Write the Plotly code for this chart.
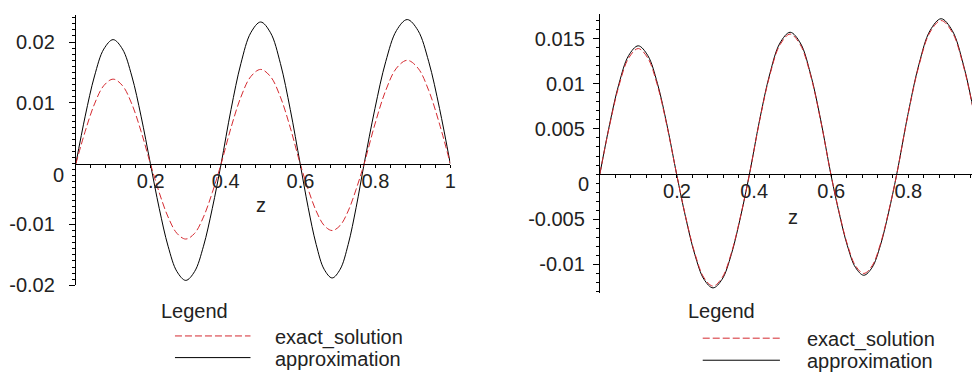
import plotly.graph_objects as go

# ---------------- data ----------------
z = [0.0, 0.0249, 0.0498, 0.0746, 0.0995, 0.1244, 0.1493, 0.1741, 0.199,
     0.2226, 0.2463, 0.2699, 0.2935, 0.3171, 0.3408, 0.3644, 0.388,
     0.4144, 0.4408, 0.4671, 0.4935, 0.5199, 0.5463, 0.5726, 0.599,
     0.6204, 0.6418, 0.6631, 0.6845, 0.7059, 0.7273, 0.7486, 0.770,
     0.7988, 0.8275, 0.8563, 0.885, 0.9138, 0.9425, 0.9713, 1.0]

exact_solution = [0.0, 0.00532, 0.00983, 0.01284, 0.0139, 0.01284, 0.00983, 0.00532, 0.0,
                  -0.00475, -0.00877, -0.01146, -0.0124, -0.01146, -0.00877, -0.00475, 0.0,
                  0.00593, 0.01096, 0.01432, 0.0155, 0.01432, 0.01096, 0.00593, 0.0,
                  -0.00421, -0.00778, -0.01016, -0.0110, -0.01016, -0.00778, -0.00421, 0.0,
                  0.00651, 0.01202, 0.01571, 0.0170, 0.01571, 0.01202, 0.00651, 0.0]

approximation_left = [0.0, 0.00781, 0.01442, 0.01885, 0.0204, 0.01885, 0.01442, 0.00781, 0.0,
                      -0.00735, -0.01358, -0.01774, -0.0192, -0.01774, -0.01358, -0.00735, 0.0,
                      0.00892, 0.01648, 0.02153, 0.0233, 0.02153, 0.01648, 0.00892, 0.0,
                      -0.00719, -0.01329, -0.01737, -0.0188, -0.01737, -0.01329, -0.00719, 0.0,
                      0.00907, 0.01676, 0.02190, 0.0237, 0.02190, 0.01676, 0.00907, 0.0]

approximation_right = [0.0, 0.00543, 0.01004, 0.01312, 0.0142, 0.01312, 0.01004, 0.00543, 0.0,
                       -0.00482, -0.00891, -0.01164, -0.0126, -0.01164, -0.00891, -0.00482, 0.0,
                       0.00601, 0.01110, 0.01451, 0.0157, 0.01451, 0.01110, 0.00601, 0.0,
                       -0.00429, -0.00792, -0.01035, -0.0112, -0.01035, -0.00792, -0.00429, 0.0,
                       0.00658, 0.01216, 0.01589, 0.0172, 0.01589, 0.01216, 0.00658, 0.0]

x_ticks_left = [0.2, 0.4, 0.6, 0.8, 1]
x_ticks_right = [0.2, 0.4, 0.6, 0.8]
y_ticks_left = [-0.02, -0.01, 0.01, 0.02]
y_ticks_left_text = ["-0.02", "-0.01", "0.01", "0.02"]
y_ticks_right = [-0.01, -0.005, 0.005, 0.01, 0.015]
y_ticks_right_text = ["-0.01", "-0.005", "0.005", "0.01", "0.015"]
legend_labels = ["exact_solution", "approximation"]

# ---------------- layout helpers ----------------
W, H = 980, 381
FONT = "Liberation Sans, Arial, sans-serif"
TXT = "#222222"
RED = "#d42a30"


def px(x):
    return x / W


def py(y):
    return 1 - y / H


yl_range = [-0.0200, 0.0245]
yr_range = [-0.0132, 0.0177]
yl_dom = [py(285.5), py(6.9)]
yr_dom = [py(293.8), py(6.4)]


def zero_pos(rng, dom):
    return dom[0] + (0 - rng[0]) / (rng[1] - rng[0]) * (dom[1] - dom[0])


fig = go.Figure()

fig.add_trace(go.Scatter(x=z, y=approximation_left, mode="lines", line=dict(color="black", width=1, shape="spline"),
                         xaxis="x", yaxis="y", showlegend=False))
fig.add_trace(go.Scatter(x=z, y=exact_solution, mode="lines", line=dict(color=RED, width=1, dash="7px,3px", shape="spline"),
                         xaxis="x", yaxis="y", showlegend=False))
fig.add_trace(go.Scatter(x=z, y=approximation_right, mode="lines", line=dict(color="black", width=1, shape="spline"),
                         xaxis="x2", yaxis="y2", showlegend=False))
fig.add_trace(go.Scatter(x=z, y=exact_solution, mode="lines", line=dict(color=RED, width=1, dash="7px,3px", shape="spline"),
                         xaxis="x2", yaxis="y2", showlegend=False))

tickfont = dict(family=FONT, size=20, color=TXT)

xcommon = dict(showgrid=False, zeroline=False, showline=True, linecolor="black", linewidth=1,
               ticks="outside", ticklen=3, tickcolor="black", tickfont=tickfont, tickmode="array",
               minor=dict(ticks="outside", ticklen=3, tickcolor="black", tick0=0, dtick=0.04),
               anchor="free", ticklabelstandoff=-4)
ycommon = dict(showgrid=False, zeroline=False, showline=True, linecolor="black", linewidth=1,
               ticks="outside", ticklen=6, tickcolor="black", tickfont=tickfont, tickmode="array")

fig.update_layout(
    width=W, height=H,
    margin=dict(l=0, r=0, t=0, b=0),
    paper_bgcolor="white", plot_bgcolor="white",
    font=dict(family=FONT, size=20, color=TXT),
    xaxis=dict(xcommon, domain=[px(68.3), px(445)], range=[0, 1], tickvals=x_ticks_left,
               ticktext=[str(v) for v in x_ticks_left], position=zero_pos(yl_range, yl_dom)),
    yaxis=dict(ycommon, domain=yl_dom, range=yl_range, tickvals=y_ticks_left, ticktext=y_ticks_left_text,
               anchor="x", ticklabelstandoff=10,
               minor=dict(ticks="outside", ticklen=3, tickcolor="black", tick0=0, dtick=0.001)),
    xaxis2=dict(xcommon, domain=[px(595.5), 1.0], range=[0, 0.991], tickvals=x_ticks_right,
                ticktext=[str(v) for v in x_ticks_right], position=zero_pos(yr_range, yr_dom)),
    yaxis2=dict(ycommon, domain=yr_dom, range=yr_range, tickvals=y_ticks_right, ticktext=y_ticks_right_text,
                anchor="x2", ticklabelstandoff=4,
                minor=dict(ticks="outside", ticklen=3, tickcolor="black", tick0=0, dtick=0.001)),
)

ann = []
# zero labels on the y axes and axis titles
ann.append(dict(x=px(51), y=py(171.7), text="0"))
ann.append(dict(x=px(579), y=py(181.7), text="0"))
ann.append(dict(x=px(255), y=py(203), text="z"))
ann.append(dict(x=px(790), y=py(215), text="z"))
# legends
ann.append(dict(x=px(187.5), y=py(311.7), text="Legend"))
ann.append(dict(x=px(718), y=py(311.7), text="Legend"))
ann.append(dict(x=px(267), y=py(339), text=legend_labels[0], xanchor="left"))
ann.append(dict(x=px(267), y=py(361), text=legend_labels[1], xanchor="left"))
ann.append(dict(x=px(801.7), y=py(341), text=legend_labels[0], xanchor="left"))
ann.append(dict(x=px(801.7), y=py(364), text=legend_labels[1], xanchor="left"))
for a in ann:
    a.setdefault("xanchor", "center")
    a.update(xref="paper", yref="paper", yanchor="middle", showarrow=False,
             font=dict(family=FONT, size=20, color=TXT))
fig.update_layout(annotations=ann)

shapes = []
for (x0, x1, yr, yb) in [(168, 244, 337.7, 360), (699, 776.7, 340, 362.7)]:
    shapes.append(dict(type="line", xref="paper", yref="paper", x0=px(x0), x1=px(x1), y0=py(yr), y1=py(yr),
                       line=dict(color=RED, width=1, dash="7px,3px")))
    shapes.append(dict(type="line", xref="paper", yref="paper", x0=px(x0), x1=px(x1), y0=py(yb), y1=py(yb),
                       line=dict(color="black", width=1)))
fig.update_layout(shapes=shapes)

fig.write_html("out.html")
